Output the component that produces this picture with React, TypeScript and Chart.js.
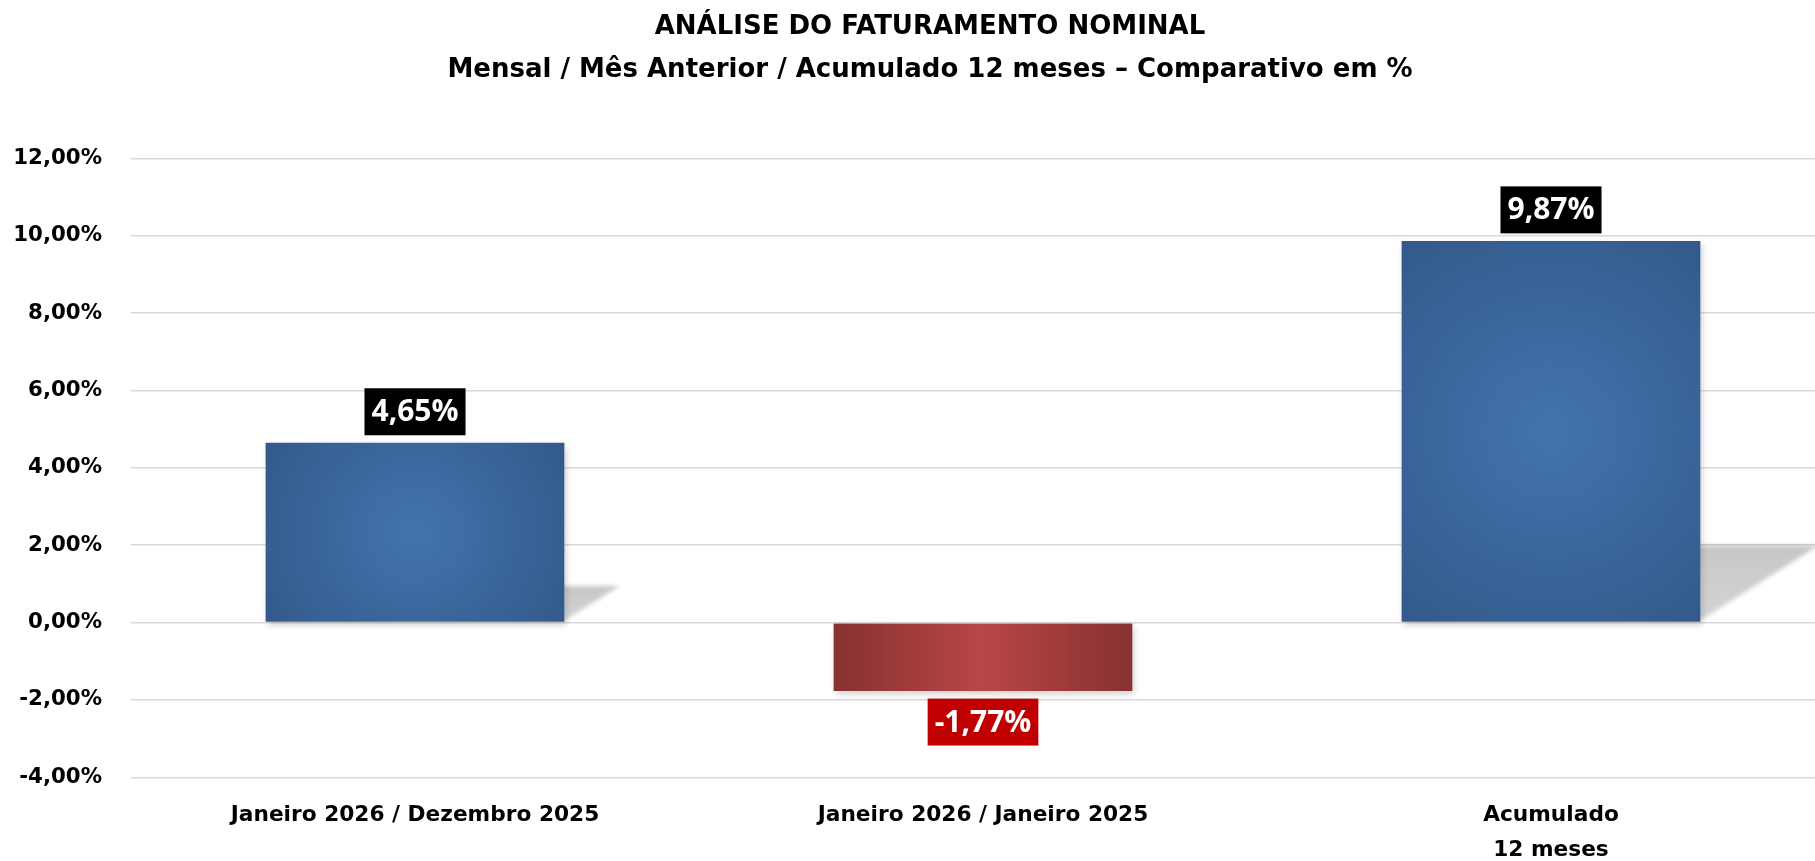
import React, { useEffect, useRef } from 'react';
import { Chart, registerables } from 'chart.js';

Chart.register(...registerables);

// ---- data ----
const TITLE = 'ANÁLISE DO FATURAMENTO NOMINAL';
const SUBTITLE = 'Mensal / Mês Anterior / Acumulado 12 meses – Comparativo em %';
const categories: (string | string[])[] = [
  'Janeiro 2026 / Dezembro 2025',
  'Janeiro 2026 / Janeiro 2025',
  ['Acumulado', '12 meses'],
];
const variacao: number[] = [4.65, -1.77, 9.87];
const Y_MIN = -4;
const Y_MAX = 12;
const Y_STEP = 2;

// ---- layout / style ----
const W = 1860;
const H = 861;
const Y_AXIS_W = 131;
const RIGHT_GAP = 25;
const CAT_PCT = 0.526;
const FONT = 'DejaVu Sans';

const fmt = (v: number) => v.toFixed(2).replace('.', ',') + '%';

const barFill = (ctx: any) => {
  const chart = ctx.chart;
  const area = chart.chartArea;
  if (!area || ctx.type !== 'data' || !chart.scales.x || !chart.scales.y) return '#3E6AA0';
  const v = ctx.raw as number;
  const xs = chart.scales.x;
  const ys = chart.scales.y;
  const cx = xs.getPixelForValue(ctx.dataIndex);
  const w = ((area.right - area.left) / categories.length) * CAT_PCT;
  const top = ys.getPixelForValue(Math.max(v, 0));
  const bot = ys.getPixelForValue(Math.min(v, 0));
  const c = chart.ctx as CanvasRenderingContext2D;
  if (v >= 0) {
    const cy = (top + bot) / 2;
    const r = Math.hypot(w / 2, (bot - top) / 2);
    const g = c.createRadialGradient(cx, cy, 0, cx, cy, r);
    g.addColorStop(0, '#4374AE');
    g.addColorStop(1, '#33598A');
    return g;
  }
  const g = c.createLinearGradient(cx - w / 2, 0, cx + w / 2, 0);
  g.addColorStop(0, '#873131');
  g.addColorStop(0.5, '#B94646');
  g.addColorStop(1, '#873131');
  return g;
};

const shadowPlugin = {
  id: 'barShadows',
  beforeDatasetsDraw(chart: any) {
    const meta = chart.getDatasetMeta(0);
    const c = chart.ctx as CanvasRenderingContext2D;
    meta.data.forEach((el: any, i: number) => {
      const { x, y, base, width } = el.getProps(['x', 'y', 'base', 'width'], true);
      const left = x - width / 2;
      const right = x + width / 2;
      const top = Math.min(y, base);
      const bottom = Math.max(y, base);
      c.save();
      c.shadowColor = 'rgba(0,0,0,0.22)';
      c.shadowBlur = 7;
      c.shadowOffsetX = 2;
      c.shadowOffsetY = 3;
      c.fillStyle = '#ffffff';
      c.fillRect(left, top, width, bottom - top);
      c.restore();
      if (variacao[i] > 0) {
        const h = base - y;
        const dy = h * 0.2;
        const dx = h * 0.31;
        c.save();
        c.filter = 'blur(2px)';
        const g = c.createLinearGradient(0, base, 0, base - dy);
        g.addColorStop(0, 'rgba(0,0,0,0.17)');
        g.addColorStop(1, 'rgba(0,0,0,0.22)');
        c.fillStyle = g;
        c.beginPath();
        c.moveTo(right - 2, base);
        c.lineTo(right + dx, base - dy);
        c.lineTo(right - 2, base - dy);
        c.closePath();
        c.fill();
        c.restore();
      }
    });
  },
};

const valueBoxPlugin = {
  id: 'valueBoxes',
  afterDatasetsDraw(chart: any) {
    const meta = chart.getDatasetMeta(0);
    const c = chart.ctx as CanvasRenderingContext2D;
    c.save();
    c.font = 'bold 30px "Open Sans"';
    c.textAlign = 'center';
    c.textBaseline = 'middle';
    meta.data.forEach((el: any, i: number) => {
      const v = variacao[i];
      const t = fmt(v);
      const tw = c.measureText(t).width;
      const bw = tw + 14;
      const bh = 47;
      const { x, y } = el.getProps(['x', 'y'], true);
      const pos = v >= 0;
      const top = pos ? y - 7.5 - bh : y + 7.5;
      c.fillStyle = pos ? '#000000' : '#C00000';
      c.fillRect(x - bw / 2, top, bw, bh);
      c.fillStyle = '#ffffff';
      c.fillText(t, x, top + bh / 2 + 1);
    });
    c.restore();
  },
};

export default function App() {
  const ref = useRef<HTMLCanvasElement | null>(null);

  useEffect(() => {
    if (!ref.current) return;
    const chart = new Chart(ref.current, {
      type: 'bar',
      data: {
        labels: categories,
        datasets: [
          {
            data: variacao,
            backgroundColor: barFill,
            borderWidth: 0,
            barPercentage: 1,
            categoryPercentage: CAT_PCT,
          },
        ],
      },
      options: {
        animation: false,
        responsive: false,
        devicePixelRatio: 1,
        layout: { padding: 0 },
        plugins: {
          legend: { display: false },
          tooltip: { enabled: false },
          title: {
            display: true,
            text: TITLE,
            color: '#000',
            font: { family: FONT, weight: 'bold', size: 26, lineHeight: 1.2 },
            padding: { top: 12, bottom: 0 },
          },
          subtitle: {
            display: true,
            text: SUBTITLE,
            color: '#000',
            font: { family: FONT, weight: 'bold', size: 26, lineHeight: 1.2 },
            padding: { top: 11, bottom: 73.1 },
          },
        },
        scales: {
          x: {
            grid: { display: false },
            border: { display: false },
            ticks: {
              color: '#000',
              autoSkip: false,
              maxRotation: 0,
              padding: 13,
              font: { family: FONT, weight: 'bold', size: 21.7, lineHeight: 1.61 },
            },
            afterFit: (s: any) => {
              s.height = 83.7;
            },
          },
          y: {
            min: Y_MIN,
            max: Y_MAX,
            grid: { color: '#d9d9d9', lineWidth: 1.6, drawTicks: false },
            border: { display: false },
            ticks: {
              stepSize: Y_STEP,
              color: '#000',
              padding: 29,
              font: { family: FONT, weight: 'bold', size: 21.3 },
              callback: (v: any) => fmt(Number(v)),
            },
            afterFit: (s: any) => {
              s.width = Y_AXIS_W;
            },
          },
          spacer: {
            type: 'linear',
            axis: 'y',
            position: 'right',
            grid: { display: false, drawTicks: false },
            border: { display: false },
            ticks: { display: false },
            afterFit: (s: any) => {
              s.width = RIGHT_GAP;
            },
          },
        },
      },
      plugins: [shadowPlugin, valueBoxPlugin],
    });
    return () => chart.destroy();
  }, []);

  return (
    <div
      style={{
        position: 'fixed',
        left: 0,
        top: 0,
        width: 1815,
        height: 861,
        overflow: 'hidden',
        background: '#ffffff',
      }}
    >
      <canvas ref={ref} width={W} height={H} style={{ display: 'block', width: W, height: H }} />
    </div>
  );
}
